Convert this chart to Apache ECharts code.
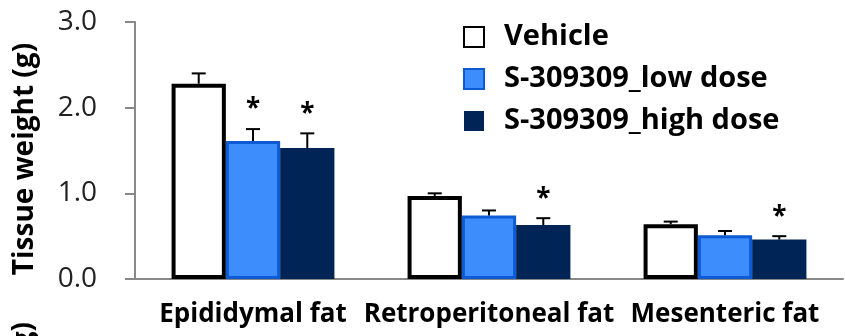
<!DOCTYPE html>
<html><head><meta charset="utf-8">
<script src="https://cdn.jsdelivr.net/npm/echarts@6/dist/echarts.min.js"></script>
<style>html,body{margin:0;padding:0;background:#fff}#c{width:845px;height:336px}</style>
</head><body><div id="c"></div>
<script>
var categories = ['Epididymal fat', 'Retroperitoneal fat', 'Mesenteric fat'];
var seriesNames = ['Vehicle', 'S-309309_low dose', 'S-309309_high dose'];
var vehicle = [2.28, 0.97, 0.64];
var lowDose = [1.61, 0.74, 0.51];
var highDose = [1.53, 0.63, 0.46];
var vehicleErr = [0.12, 0.03, 0.03];
var lowDoseErr = [0.14, 0.06, 0.05];
var highDoseErr = [0.17, 0.08, 0.04];
var vehicleStar = [false, false, false];
var lowDoseStar = [true, false, false];
var highDoseStar = [true, true, true];
var yTicks = [0, 1, 2, 3];
var yTitle = 'Tissue weight (g)';

var FONT = '"Open Sans", "Noto Sans", sans-serif';
var values = [vehicle, lowDose, highDose];
var errs = [vehicleErr, lowDoseErr, highDoseErr];
var stars = [vehicleStar, lowDoseStar, highDoseStar];
var styles = [
  {color: '#ffffff', borderColor: '#000000', borderWidth: 4},
  {color: '#3d8efc', borderColor: '#0d5ad2', borderWidth: 3},
  {color: '#002456', borderColor: '#002456', borderWidth: 0}
];
var GAP = 0.31;

var chart = echarts.init(document.getElementById('c'), null, {renderer: 'canvas'});
var series = [];
for (var s = 0; s < 3; s++) {
  series.push({
    name: seriesNames[s], type: 'bar', data: values[s],
    barGap: '0%', barCategoryGap: (GAP * 100) + '%',
    itemStyle: styles[s], silent: true, z: 2
  });
}
var errData = [];
for (var s2 = 0; s2 < 3; s2++) {
  for (var c = 0; c < categories.length; c++) {
    errData.push([c, values[s2][c], errs[s2][c], s2, stars[s2][c] ? 1 : 0]);
  }
}
series.push({
  type: 'custom', data: errData, z: 5, silent: true,
  renderItem: function (params, api) {
    var ci = api.value(0), v = api.value(1), e = api.value(2), si = api.value(3), st = api.value(4);
    var band = api.size([1, 0])[0];
    var bw = band * (1 - GAP) / 3;
    var center = api.coord([ci, v]);
    var x = center[0] + (si - 1) * bw;
    var yTop = center[1];
    var yErr = api.coord([ci, v + e])[1];
    var cap = 7;
    var children = [
      {type: 'line', shape: {x1: x, y1: yTop, x2: x, y2: yErr}, style: {stroke: '#000', lineWidth: 2}},
      {type: 'line', shape: {x1: x - cap, y1: yErr, x2: x + cap, y2: yErr}, style: {stroke: '#000', lineWidth: 2}}
    ];
    if (st) {
      children.push({type: 'text', x: x, y: yErr - 6,
        style: {text: '*', font: 'bold 26px ' + FONT, fill: '#000', align: 'center', verticalAlign: 'bottom'}});
    }
    return {type: 'group', children: children};
  }
});

chart.setOption({
  animation: false,
  grid: {left: 135, right: 2, top: 22, bottom: 57, containLabel: false},
  legend: {
    orient: 'vertical', left: 458, top: 17, itemWidth: 20, itemHeight: 20, itemGap: 12,
    icon: 'rect',
    data: seriesNames,
    textStyle: {fontFamily: FONT, fontWeight: 'bold', fontSize: 29, lineHeight: 30, color: '#000', padding: [0, 0, 0, 15]}
  },
  xAxis: {
    type: 'category', data: categories,
    axisLine: {lineStyle: {color: '#888', width: 2}},
    axisTick: {show: false},
    axisLabel: {fontFamily: FONT, fontWeight: 'bold', fontSize: 26, color: '#000', margin: 23, interval: 0}
  },
  yAxis: {
    type: 'value', min: yTicks[0], max: yTicks[yTicks.length - 1], interval: 1,
    axisLine: {show: true, lineStyle: {color: '#888', width: 2}},
    axisTick: {show: true, length: 10, lineStyle: {color: '#888', width: 2}},
    splitLine: {show: false},
    axisLabel: {fontFamily: FONT, fontSize: 28, color: '#222', margin: 38,
      formatter: function (v) { return v.toFixed(1); }}
  },
  graphic: [{
    type: 'text', x: 25, y: 159, rotation: Math.PI / 2,
    style: {text: yTitle, font: 'bold 28px ' + FONT, fill: '#000', align: 'center', verticalAlign: 'middle'}
  }, {
    type: 'text', x: 10, y: 322, rotation: Math.PI / 2,
    style: {text: yTitle, font: 'bold 28px ' + FONT, fill: '#000', align: 'right', verticalAlign: 'top'}
  }],
  series: series
});
</script></body></html>
